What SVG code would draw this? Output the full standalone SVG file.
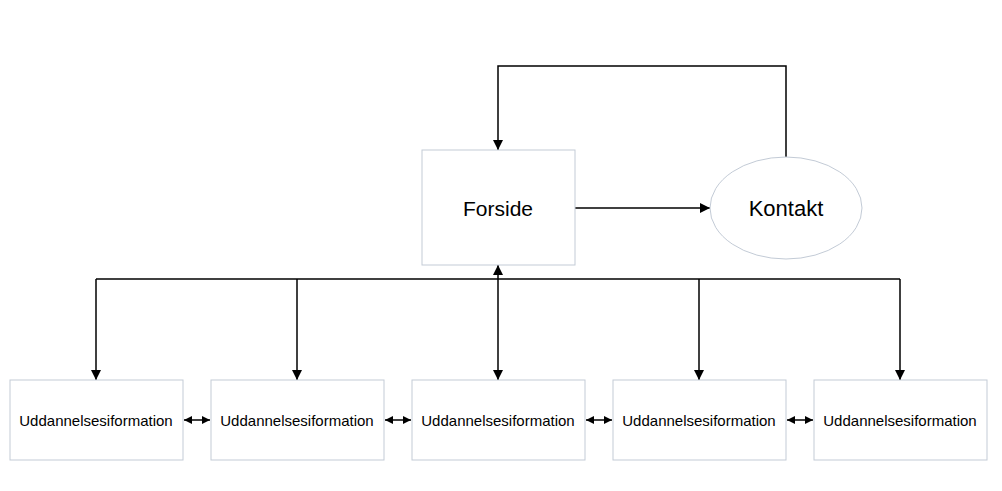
<svg xmlns="http://www.w3.org/2000/svg" width="1002" height="491" viewBox="0 0 1002 491">
<defs>
<marker id="ah" viewBox="0 0 10 10" refX="10" refY="5" markerWidth="10" markerHeight="10" markerUnits="userSpaceOnUse" orient="auto-start-reverse"><path d="M0,0 L10,5 L0,10 z" fill="#000"/></marker>
<marker id="ahs" viewBox="0 0 10 10" refX="10" refY="5" markerWidth="8" markerHeight="8" markerUnits="userSpaceOnUse" orient="auto-start-reverse"><path d="M0,0 L10,5 L0,10 z" fill="#000"/></marker>
</defs>
<style>
.box{fill:#fff;stroke:#c3cbd6;stroke-width:1}
.t{font-family:"Liberation Sans",Arial,sans-serif;fill:#000;text-anchor:middle;dominant-baseline:central}
.big{font-size:21px}
.kt{font-size:22px}
.small{font-size:15px}
.c{fill:none;stroke:#000;stroke-width:1.5}
</style>
<rect width="1002" height="491" fill="#fff"/>
<g id="connectors">
<path class="c" d="M786,157 V66 H498 V150" marker-end="url(#ah)"/>
<path class="c" d="M575,208 H710" marker-end="url(#ah)"/>
<path class="c" d="M96,279 H900"/>
<path class="c" d="M96,279 V380" marker-end="url(#ah)"/>
<path class="c" d="M297,279 V380" marker-end="url(#ah)"/>
<path class="c" d="M498,265 V380" marker-start="url(#ah)" marker-end="url(#ah)"/>
<path class="c" d="M699,279 V380" marker-end="url(#ah)"/>
<path class="c" d="M900,279 V380" marker-end="url(#ah)"/>
<path class="c" d="M184,420 H210" marker-start="url(#ahs)" marker-end="url(#ahs)"/>
<path class="c" d="M385,420 H411" marker-start="url(#ahs)" marker-end="url(#ahs)"/>
<path class="c" d="M586,420 H612" marker-start="url(#ahs)" marker-end="url(#ahs)"/>
<path class="c" d="M787,420 H813" marker-start="url(#ahs)" marker-end="url(#ahs)"/>
</g>
<g id="forside"><rect class="box" x="422" y="150" width="153" height="115"/><text class="t big" x="498" y="208">Forside</text></g>
<g id="kontakt"><ellipse class="box" cx="786" cy="208" rx="76" ry="51"/><text class="t kt" x="786" y="208">Kontakt</text></g>
<g id="u1"><rect class="box" x="10" y="380" width="173" height="80"/><text class="t small" x="96" y="420">Uddannelsesiformation</text></g>
<g id="u2"><rect class="box" x="211" y="380" width="173" height="80"/><text class="t small" x="297" y="420">Uddannelsesiformation</text></g>
<g id="u3"><rect class="box" x="412" y="380" width="173" height="80"/><text class="t small" x="498" y="420">Uddannelsesiformation</text></g>
<g id="u4"><rect class="box" x="613" y="380" width="173" height="80"/><text class="t small" x="699" y="420">Uddannelsesiformation</text></g>
<g id="u5"><rect class="box" x="814" y="380" width="173" height="80"/><text class="t small" x="900" y="420">Uddannelsesiformation</text></g>
</svg>
